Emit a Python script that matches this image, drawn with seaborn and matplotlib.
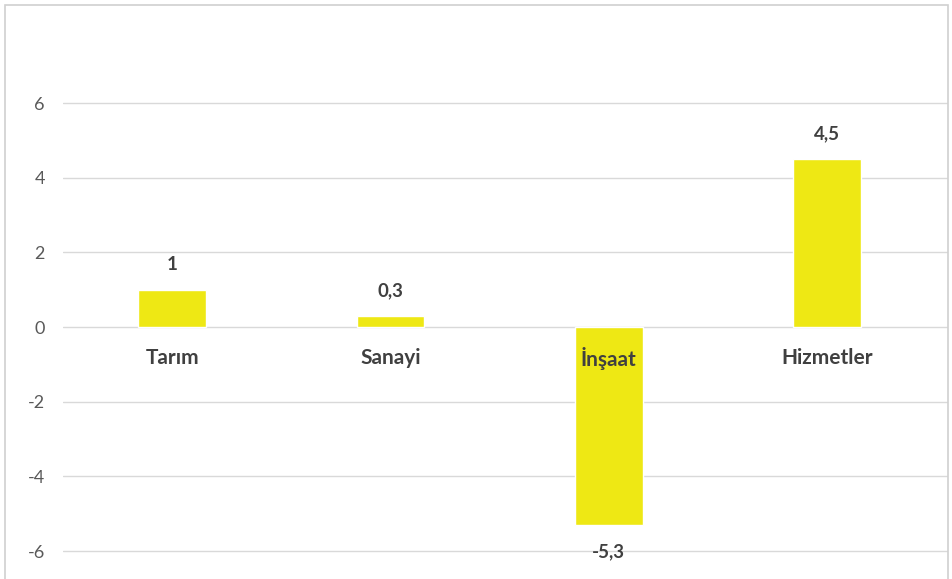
import matplotlib
matplotlib.use("Agg")
import matplotlib.pyplot as plt
import seaborn as sns
import pandas as pd
from matplotlib.patches import Rectangle

categories = ["Tarım", "Sanayi", "İnşaat", "Hizmetler"]
values = [1.0, 0.3, -5.3, 4.5]
value_labels = ["1", "0,3", "-5,3", "4,5"]
yticks = [-6, -4, -2, 0, 2, 4, 6]

sns.set_theme(style="white")
plt.rcParams["font.family"] = ["Lato", "DejaVu Sans"]

df = pd.DataFrame({"cat": categories, "val": values})

W, H = 952, 579
fig = plt.figure(figsize=(W / 100, H / 100), dpi=100)
px_per_unit = 224 / 6.0
y0 = 327
top = y0 / px_per_unit
bottom = -(H - y0) / px_per_unit
left_px, right_px = 63, 948
slot = 218.3
ax = fig.add_axes([left_px / W, 0, (right_px - left_px) / W, 1])

sns.barplot(data=df, x="cat", y="val", color="#EEE814", saturation=1,
            width=0.31, ax=ax, zorder=3)

ax.set_ylim(bottom, top)
ax.set_xlim(-0.5, -0.5 + (right_px - left_px) / slot)
ax.set_yticks(yticks)
ax.set_yticklabels([str(t) for t in yticks], color="#595959", fontsize=13)
ax.tick_params(axis="y", length=0, pad=13)
ax.set_xticks([])
ax.set_xlabel("")
ax.set_ylabel("")
for s in ax.spines.values():
    s.set_visible(False)
for t in yticks:
    ax.axhline(t, color="#D9D9D9", lw=1.0, zorder=1)

for i, (c, v, lab) in enumerate(zip(categories, values, value_labels)):
    ax.text(i, -31 / px_per_unit, c, ha="center", va="center",
            fontsize=15, color="#404040", fontweight="bold", zorder=5)
    if v >= 0:
        ax.text(i, v + 25 / px_per_unit, lab, ha="center", va="center",
                fontsize=13.5, color="#404040", fontweight="bold", zorder=5)
    else:
        ax.text(i, v - 27 / px_per_unit, lab, ha="center", va="center",
                fontsize=13.5, color="#404040", fontweight="bold", zorder=5)

fig.patches.append(Rectangle((5 / W, -0.1), (943) / W, 1.1 - 5 / H,
                             transform=fig.transFigure, fill=False,
                             edgecolor="#D0D0D0", lw=1.2))

fig.savefig("out.png", dpi=100)
